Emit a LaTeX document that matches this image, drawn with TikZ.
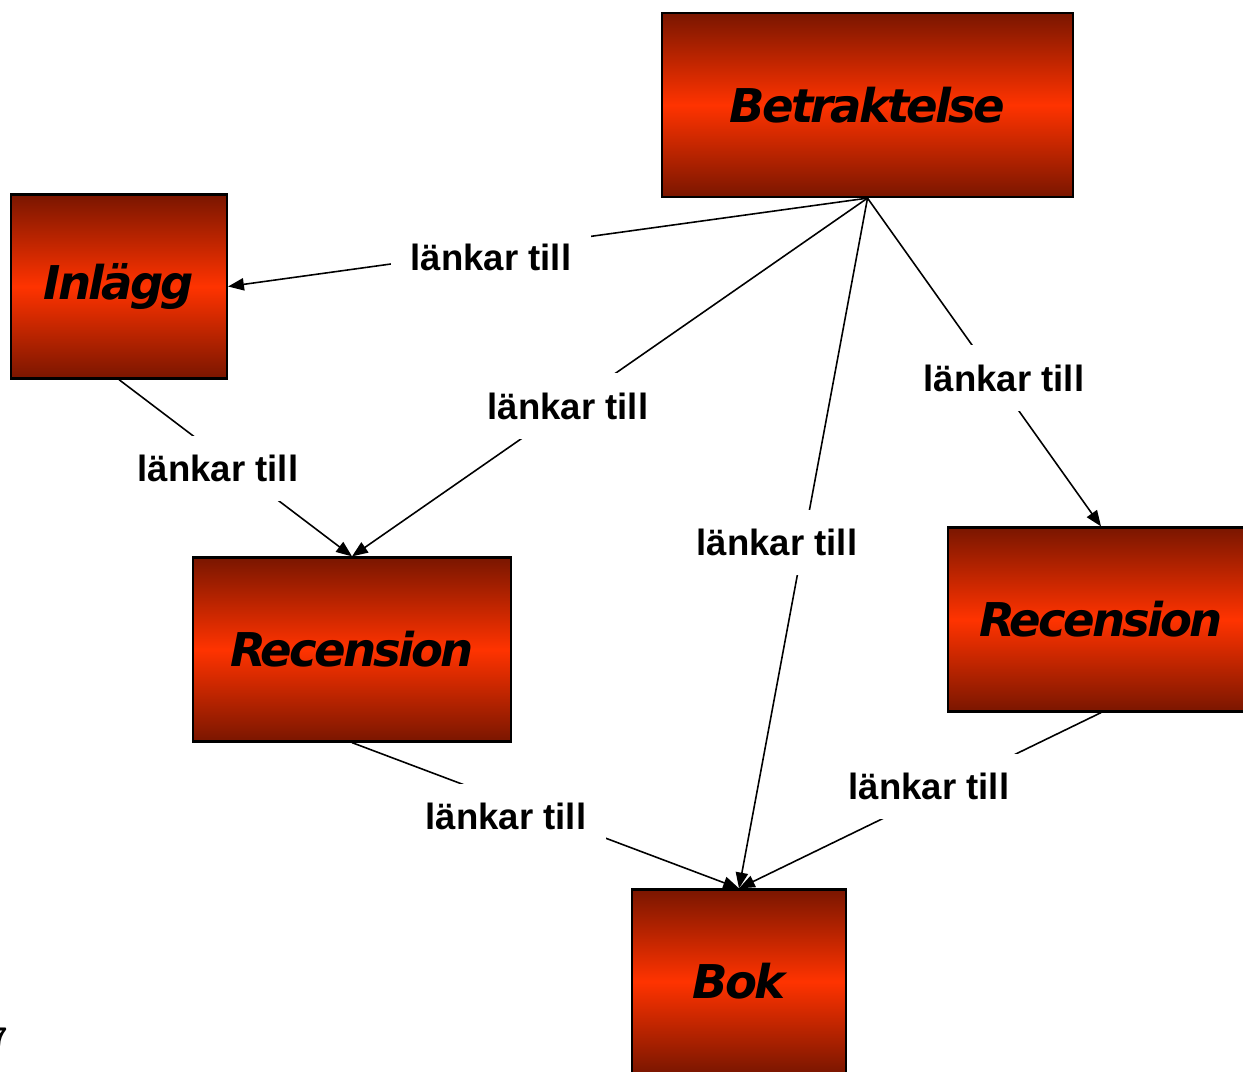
\documentclass[tikz,border=0pt]{standalone}
\usepackage{fontspec}
\usetikzlibrary{arrows.meta}
\newfontfamily\boxfont{DejaVu Sans}[LetterSpace=-6]
\newfontfamily\lblfont{Liberation Sans}
\definecolor{boxdark}{RGB}{122,22,0}
\definecolor{boxlight}{RGB}{255,51,0}

\begin{document}
\begin{tikzpicture}[x=0.02cm,y=-0.02cm,
        box/.style={draw,line width=1.3pt,inner sep=0mm,minimum height=3.68cm,top color=boxdark,bottom color=boxdark,middle color=boxlight,font=\boxfont\bfseries\itshape\fontsize{26.5}{30}\selectfont},
        lbl/.style={fill=white,inner xsep=11pt,inner ysep=11pt,text height=15pt,text depth=0pt,font=\lblfont\bfseries\fontsize{20.8}{24}\selectfont},
        link/.style={-{Triangle[length=9pt,width=7pt]},line width=.9pt}]
                \useasboundingbox (0,0) rectangle (1243,1071);
                \clip (0,0) rectangle (1243,1071);
                \foreach \x/\y/\w/\n/\t in {867.5/105/8.22/betr/Betraktelse, 119/286.5/4.32/inl/Inlägg, 352/649.5/6.36/recl/Recension, 1101/619.5/6.12/recr/Recension, 739/981.5/4.28/bok/Bok}
                \node[box,minimum width=\w cm] (\n) at (\x,\y) {\t};
                \foreach \s/\t/\x/\y in {betr.south/inl.east/491/257, betr.south/recl.north/568/406, betr.south/bok.north/777/542, betr.south/recr.north/1004/378, inl.south/recl.north/218/468, recl.south/bok.north/506/816, recr.south/bok.north/929/786}
                \draw[link] (\s) -- (\t) node[lbl] at (\x,\y) {länkar till};
                \node[anchor=east,inner sep=0mm,font=\sffamily\bfseries\fontsize{16}{18}\selectfont] (sidnr) at (8,1038) {7};

            \end{tikzpicture}
\end{document}
